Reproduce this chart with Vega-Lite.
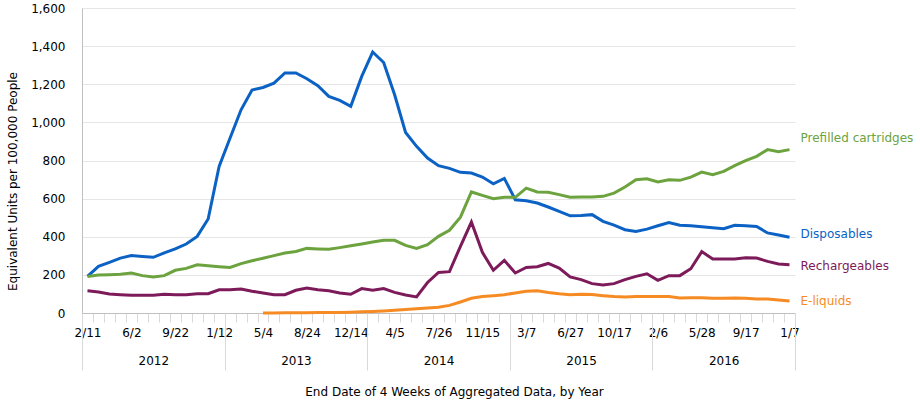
{
  "$schema": "https://vega.github.io/schema/vega-lite/v6.json",
  "autosize": {"type": "none"},
  "width": 713,
  "height": 305,
  "padding": {"left": 82, "top": 8, "right": 125, "bottom": 93},
  "background": "white",
  "config": {"font": "DejaVu Sans", "view": {"stroke": null}},
  "datasets": {
    "sales": [
      {"date":"2012-02-11","series":"Disposables","value":192},
      {"date":"2012-03-10","series":"Disposables","value":245},
      {"date":"2012-04-07","series":"Disposables","value":266},
      {"date":"2012-05-05","series":"Disposables","value":288},
      {"date":"2012-06-02","series":"Disposables","value":301},
      {"date":"2012-06-30","series":"Disposables","value":297},
      {"date":"2012-07-28","series":"Disposables","value":292},
      {"date":"2012-08-25","series":"Disposables","value":315},
      {"date":"2012-09-22","series":"Disposables","value":336},
      {"date":"2012-10-20","series":"Disposables","value":362},
      {"date":"2012-11-17","series":"Disposables","value":402},
      {"date":"2012-12-15","series":"Disposables","value":493},
      {"date":"2013-01-12","series":"Disposables","value":769},
      {"date":"2013-02-09","series":"Disposables","value":918},
      {"date":"2013-03-09","series":"Disposables","value":1066},
      {"date":"2013-04-06","series":"Disposables","value":1170},
      {"date":"2013-05-04","series":"Disposables","value":1183},
      {"date":"2013-06-01","series":"Disposables","value":1206},
      {"date":"2013-06-29","series":"Disposables","value":1259},
      {"date":"2013-07-27","series":"Disposables","value":1259},
      {"date":"2013-08-24","series":"Disposables","value":1229},
      {"date":"2013-09-21","series":"Disposables","value":1192},
      {"date":"2013-10-19","series":"Disposables","value":1136},
      {"date":"2013-11-16","series":"Disposables","value":1115},
      {"date":"2013-12-14","series":"Disposables","value":1084},
      {"date":"2014-01-11","series":"Disposables","value":1241},
      {"date":"2014-02-08","series":"Disposables","value":1369},
      {"date":"2014-03-08","series":"Disposables","value":1314},
      {"date":"2014-04-05","series":"Disposables","value":1145},
      {"date":"2014-05-03","series":"Disposables","value":947},
      {"date":"2014-05-31","series":"Disposables","value":874},
      {"date":"2014-06-28","series":"Disposables","value":813},
      {"date":"2014-07-26","series":"Disposables","value":773},
      {"date":"2014-08-23","series":"Disposables","value":759},
      {"date":"2014-09-20","series":"Disposables","value":738},
      {"date":"2014-10-18","series":"Disposables","value":734},
      {"date":"2014-11-15","series":"Disposables","value":713},
      {"date":"2014-12-13","series":"Disposables","value":678},
      {"date":"2015-01-10","series":"Disposables","value":706},
      {"date":"2015-02-07","series":"Disposables","value":594},
      {"date":"2015-03-07","series":"Disposables","value":589},
      {"date":"2015-04-04","series":"Disposables","value":577},
      {"date":"2015-05-02","series":"Disposables","value":556},
      {"date":"2015-05-30","series":"Disposables","value":533},
      {"date":"2015-06-27","series":"Disposables","value":510},
      {"date":"2015-07-25","series":"Disposables","value":512},
      {"date":"2015-08-22","series":"Disposables","value":516},
      {"date":"2015-09-19","series":"Disposables","value":481},
      {"date":"2015-10-17","series":"Disposables","value":461},
      {"date":"2015-11-14","series":"Disposables","value":437},
      {"date":"2015-12-12","series":"Disposables","value":428},
      {"date":"2016-01-09","series":"Disposables","value":440},
      {"date":"2016-02-06","series":"Disposables","value":458},
      {"date":"2016-03-05","series":"Disposables","value":475},
      {"date":"2016-04-02","series":"Disposables","value":460},
      {"date":"2016-04-30","series":"Disposables","value":458},
      {"date":"2016-05-28","series":"Disposables","value":453},
      {"date":"2016-06-25","series":"Disposables","value":447},
      {"date":"2016-07-23","series":"Disposables","value":442},
      {"date":"2016-08-20","series":"Disposables","value":460},
      {"date":"2016-09-17","series":"Disposables","value":458},
      {"date":"2016-10-15","series":"Disposables","value":454},
      {"date":"2016-11-12","series":"Disposables","value":420},
      {"date":"2016-12-10","series":"Disposables","value":409},
      {"date":"2017-01-07","series":"Disposables","value":397},
      {"date":"2012-02-11","series":"Prefilled cartridges","value":192},
      {"date":"2012-03-10","series":"Prefilled cartridges","value":199},
      {"date":"2012-04-07","series":"Prefilled cartridges","value":201},
      {"date":"2012-05-05","series":"Prefilled cartridges","value":203},
      {"date":"2012-06-02","series":"Prefilled cartridges","value":210},
      {"date":"2012-06-30","series":"Prefilled cartridges","value":196},
      {"date":"2012-07-28","series":"Prefilled cartridges","value":189},
      {"date":"2012-08-25","series":"Prefilled cartridges","value":196},
      {"date":"2012-09-22","series":"Prefilled cartridges","value":224},
      {"date":"2012-10-20","series":"Prefilled cartridges","value":234},
      {"date":"2012-11-17","series":"Prefilled cartridges","value":253},
      {"date":"2012-12-15","series":"Prefilled cartridges","value":248},
      {"date":"2013-01-12","series":"Prefilled cartridges","value":243},
      {"date":"2013-02-09","series":"Prefilled cartridges","value":239},
      {"date":"2013-03-09","series":"Prefilled cartridges","value":259},
      {"date":"2013-04-06","series":"Prefilled cartridges","value":274},
      {"date":"2013-05-04","series":"Prefilled cartridges","value":287},
      {"date":"2013-06-01","series":"Prefilled cartridges","value":301},
      {"date":"2013-06-29","series":"Prefilled cartridges","value":315},
      {"date":"2013-07-27","series":"Prefilled cartridges","value":323},
      {"date":"2013-08-24","series":"Prefilled cartridges","value":339},
      {"date":"2013-09-21","series":"Prefilled cartridges","value":336},
      {"date":"2013-10-19","series":"Prefilled cartridges","value":334},
      {"date":"2013-11-16","series":"Prefilled cartridges","value":343},
      {"date":"2013-12-14","series":"Prefilled cartridges","value":353},
      {"date":"2014-01-11","series":"Prefilled cartridges","value":362},
      {"date":"2014-02-08","series":"Prefilled cartridges","value":372},
      {"date":"2014-03-08","series":"Prefilled cartridges","value":381},
      {"date":"2014-04-05","series":"Prefilled cartridges","value":381},
      {"date":"2014-05-03","series":"Prefilled cartridges","value":355},
      {"date":"2014-05-31","series":"Prefilled cartridges","value":339},
      {"date":"2014-06-28","series":"Prefilled cartridges","value":358},
      {"date":"2014-07-26","series":"Prefilled cartridges","value":402},
      {"date":"2014-08-23","series":"Prefilled cartridges","value":434},
      {"date":"2014-09-20","series":"Prefilled cartridges","value":503},
      {"date":"2014-10-18","series":"Prefilled cartridges","value":635},
      {"date":"2014-11-15","series":"Prefilled cartridges","value":617},
      {"date":"2014-12-13","series":"Prefilled cartridges","value":600},
      {"date":"2015-01-10","series":"Prefilled cartridges","value":607},
      {"date":"2015-02-07","series":"Prefilled cartridges","value":607},
      {"date":"2015-03-07","series":"Prefilled cartridges","value":655},
      {"date":"2015-04-04","series":"Prefilled cartridges","value":635},
      {"date":"2015-05-02","series":"Prefilled cartridges","value":633},
      {"date":"2015-05-30","series":"Prefilled cartridges","value":621},
      {"date":"2015-06-27","series":"Prefilled cartridges","value":607},
      {"date":"2015-07-25","series":"Prefilled cartridges","value":608},
      {"date":"2015-08-22","series":"Prefilled cartridges","value":608},
      {"date":"2015-09-19","series":"Prefilled cartridges","value":612},
      {"date":"2015-10-17","series":"Prefilled cartridges","value":629},
      {"date":"2015-11-14","series":"Prefilled cartridges","value":661},
      {"date":"2015-12-12","series":"Prefilled cartridges","value":699},
      {"date":"2016-01-09","series":"Prefilled cartridges","value":704},
      {"date":"2016-02-06","series":"Prefilled cartridges","value":687},
      {"date":"2016-03-05","series":"Prefilled cartridges","value":699},
      {"date":"2016-04-02","series":"Prefilled cartridges","value":696},
      {"date":"2016-04-30","series":"Prefilled cartridges","value":713},
      {"date":"2016-05-28","series":"Prefilled cartridges","value":739},
      {"date":"2016-06-25","series":"Prefilled cartridges","value":725},
      {"date":"2016-07-23","series":"Prefilled cartridges","value":743},
      {"date":"2016-08-20","series":"Prefilled cartridges","value":773},
      {"date":"2016-09-17","series":"Prefilled cartridges","value":799},
      {"date":"2016-10-15","series":"Prefilled cartridges","value":822},
      {"date":"2016-11-12","series":"Prefilled cartridges","value":857},
      {"date":"2016-12-10","series":"Prefilled cartridges","value":846},
      {"date":"2017-01-07","series":"Prefilled cartridges","value":857},
      {"date":"2012-02-11","series":"Rechargeables","value":117},
      {"date":"2012-03-10","series":"Rechargeables","value":110},
      {"date":"2012-04-07","series":"Rechargeables","value":100},
      {"date":"2012-05-05","series":"Rechargeables","value":96},
      {"date":"2012-06-02","series":"Rechargeables","value":93},
      {"date":"2012-06-30","series":"Rechargeables","value":93},
      {"date":"2012-07-28","series":"Rechargeables","value":93},
      {"date":"2012-08-25","series":"Rechargeables","value":98},
      {"date":"2012-09-22","series":"Rechargeables","value":96},
      {"date":"2012-10-20","series":"Rechargeables","value":96},
      {"date":"2012-11-17","series":"Rechargeables","value":101},
      {"date":"2012-12-15","series":"Rechargeables","value":101},
      {"date":"2013-01-12","series":"Rechargeables","value":122},
      {"date":"2013-02-09","series":"Rechargeables","value":122},
      {"date":"2013-03-09","series":"Rechargeables","value":126},
      {"date":"2013-04-06","series":"Rechargeables","value":114},
      {"date":"2013-05-04","series":"Rechargeables","value":105},
      {"date":"2013-06-01","series":"Rechargeables","value":96},
      {"date":"2013-06-29","series":"Rechargeables","value":96},
      {"date":"2013-07-27","series":"Rechargeables","value":119},
      {"date":"2013-08-24","series":"Rechargeables","value":131},
      {"date":"2013-09-21","series":"Rechargeables","value":122},
      {"date":"2013-10-19","series":"Rechargeables","value":117},
      {"date":"2013-11-16","series":"Rechargeables","value":105},
      {"date":"2013-12-14","series":"Rechargeables","value":98},
      {"date":"2014-01-11","series":"Rechargeables","value":128},
      {"date":"2014-02-08","series":"Rechargeables","value":119},
      {"date":"2014-03-08","series":"Rechargeables","value":128},
      {"date":"2014-04-05","series":"Rechargeables","value":108},
      {"date":"2014-05-03","series":"Rechargeables","value":94},
      {"date":"2014-05-31","series":"Rechargeables","value":84},
      {"date":"2014-06-28","series":"Rechargeables","value":160},
      {"date":"2014-07-26","series":"Rechargeables","value":213},
      {"date":"2014-08-23","series":"Rechargeables","value":217},
      {"date":"2014-09-20","series":"Rechargeables","value":350},
      {"date":"2014-10-18","series":"Rechargeables","value":477},
      {"date":"2014-11-15","series":"Rechargeables","value":318},
      {"date":"2014-12-13","series":"Rechargeables","value":224},
      {"date":"2015-01-10","series":"Rechargeables","value":276},
      {"date":"2015-02-07","series":"Rechargeables","value":210},
      {"date":"2015-03-07","series":"Rechargeables","value":239},
      {"date":"2015-04-04","series":"Rechargeables","value":243},
      {"date":"2015-05-02","series":"Rechargeables","value":260},
      {"date":"2015-05-30","series":"Rechargeables","value":236},
      {"date":"2015-06-27","series":"Rechargeables","value":189},
      {"date":"2015-07-25","series":"Rechargeables","value":175},
      {"date":"2015-08-22","series":"Rechargeables","value":154},
      {"date":"2015-09-19","series":"Rechargeables","value":147},
      {"date":"2015-10-17","series":"Rechargeables","value":154},
      {"date":"2015-11-14","series":"Rechargeables","value":175},
      {"date":"2015-12-12","series":"Rechargeables","value":192},
      {"date":"2016-01-09","series":"Rechargeables","value":206},
      {"date":"2016-02-06","series":"Rechargeables","value":171},
      {"date":"2016-03-05","series":"Rechargeables","value":196},
      {"date":"2016-04-02","series":"Rechargeables","value":196},
      {"date":"2016-04-30","series":"Rechargeables","value":232},
      {"date":"2016-05-28","series":"Rechargeables","value":322},
      {"date":"2016-06-25","series":"Rechargeables","value":283},
      {"date":"2016-07-23","series":"Rechargeables","value":283},
      {"date":"2016-08-20","series":"Rechargeables","value":283},
      {"date":"2016-09-17","series":"Rechargeables","value":290},
      {"date":"2016-10-15","series":"Rechargeables","value":288},
      {"date":"2016-11-12","series":"Rechargeables","value":271},
      {"date":"2016-12-10","series":"Rechargeables","value":257},
      {"date":"2017-01-07","series":"Rechargeables","value":253},
      {"date":"2013-05-04","series":"E-liquids","value":0},
      {"date":"2013-06-01","series":"E-liquids","value":0},
      {"date":"2013-06-29","series":"E-liquids","value":1},
      {"date":"2013-07-27","series":"E-liquids","value":1},
      {"date":"2013-08-24","series":"E-liquids","value":1},
      {"date":"2013-09-21","series":"E-liquids","value":2},
      {"date":"2013-10-19","series":"E-liquids","value":2},
      {"date":"2013-11-16","series":"E-liquids","value":3},
      {"date":"2013-12-14","series":"E-liquids","value":4},
      {"date":"2014-01-11","series":"E-liquids","value":6},
      {"date":"2014-02-08","series":"E-liquids","value":8},
      {"date":"2014-03-08","series":"E-liquids","value":11},
      {"date":"2014-04-05","series":"E-liquids","value":14},
      {"date":"2014-05-03","series":"E-liquids","value":18},
      {"date":"2014-05-31","series":"E-liquids","value":22},
      {"date":"2014-06-28","series":"E-liquids","value":26},
      {"date":"2014-07-26","series":"E-liquids","value":30},
      {"date":"2014-08-23","series":"E-liquids","value":40},
      {"date":"2014-09-20","series":"E-liquids","value":58},
      {"date":"2014-10-18","series":"E-liquids","value":77},
      {"date":"2014-11-15","series":"E-liquids","value":86},
      {"date":"2014-12-13","series":"E-liquids","value":91},
      {"date":"2015-01-10","series":"E-liquids","value":96},
      {"date":"2015-02-07","series":"E-liquids","value":105},
      {"date":"2015-03-07","series":"E-liquids","value":114},
      {"date":"2015-04-04","series":"E-liquids","value":117},
      {"date":"2015-05-02","series":"E-liquids","value":108},
      {"date":"2015-05-30","series":"E-liquids","value":101},
      {"date":"2015-06-27","series":"E-liquids","value":96},
      {"date":"2015-07-25","series":"E-liquids","value":98},
      {"date":"2015-08-22","series":"E-liquids","value":97},
      {"date":"2015-09-19","series":"E-liquids","value":91},
      {"date":"2015-10-17","series":"E-liquids","value":86},
      {"date":"2015-11-14","series":"E-liquids","value":84},
      {"date":"2015-12-12","series":"E-liquids","value":86},
      {"date":"2016-01-09","series":"E-liquids","value":87},
      {"date":"2016-02-06","series":"E-liquids","value":86},
      {"date":"2016-03-05","series":"E-liquids","value":87},
      {"date":"2016-04-02","series":"E-liquids","value":79},
      {"date":"2016-04-30","series":"E-liquids","value":80},
      {"date":"2016-05-28","series":"E-liquids","value":80},
      {"date":"2016-06-25","series":"E-liquids","value":77},
      {"date":"2016-07-23","series":"E-liquids","value":77},
      {"date":"2016-08-20","series":"E-liquids","value":79},
      {"date":"2016-09-17","series":"E-liquids","value":77},
      {"date":"2016-10-15","series":"E-liquids","value":73},
      {"date":"2016-11-12","series":"E-liquids","value":73},
      {"date":"2016-12-10","series":"E-liquids","value":68},
      {"date":"2017-01-07","series":"E-liquids","value":63}
    ],
    "labels": [
      {"date":"2017-01-07","series":"Prefilled cartridges","value":920},
      {"date":"2017-01-07","series":"Disposables","value":416},
      {"date":"2017-01-07","series":"Rechargeables","value":248},
      {"date":"2017-01-07","series":"E-liquids","value":65}
    ],
    "years": [
      {"year":"2012"},{"year":"2013"},{"year":"2014"},{"year":"2015"},{"year":"2016"}
    ]
  },
  "layer": [
    {
      "encoding": {
        "x": {
          "field": "date", "type": "ordinal", "bandPosition": 0.5,
          "scale": {"type": "band", "paddingInner": 0, "paddingOuter": 0},
          "axis": {
            "title": "End Date of 4 Weeks of Aggregated Data, by Year",
            "titleFontSize": 12, "titleFontWeight": "normal", "titleColor": "#000",
            "titleX": 372, "titleY": 78, "titleBaseline": "middle", "titleAlign": "center",
            "labelExpr": "(toDate(datum.value) - toDate('2012-02-11')) % 9676800000 === 0 ? (utcmonth(toDate(datum.value)) + 1) + '/' + utcdate(toDate(datum.value)) : ''",
            "labelAngle": 0, "labelFontSize": 12, "labelColor": "#000",
            "labelBaseline": "middle", "labelPadding": 10, "labelOverlap": false,
            "tickBand": "extent", "tickSize": 9, "tickColor": "#d9d9d9",
            "domainColor": "#bfbfbf", "grid": false
          }
        },
        "y": {
          "field": "value", "type": "quantitative",
          "scale": {"domain": [0, 1600]},
          "axis": {
            "title": "Equivalent Units per 100,000 People",
            "titleFontSize": 12, "titleFontWeight": "normal", "titleColor": "#000",
            "titleX": -70, "titleY": 173, "titleBaseline": "middle", "titleAlign": "center",
            "values": [0, 200, 400, 600, 800, 1000, 1200, 1400, 1600],
            "format": ",.0f", "ticks": false, "labelPadding": 17, "labelOverlap": false,
            "labelFontSize": 12, "labelColor": "#000",
            "domainColor": "#bfbfbf", "grid": true, "gridColor": "#e6e6e6"
          }
        },
        "color": {
          "field": "series", "type": "nominal",
          "scale": {
            "domain": ["Prefilled cartridges", "Disposables", "Rechargeables", "E-liquids"],
            "range": ["#6ca33f", "#0b62c4", "#7d1b5a", "#f68b24"]
          },
          "legend": null
        }
      },
      "layer": [
        {
          "data": {"name": "sales"},
          "mark": {"type": "line", "strokeWidth": 3}
        },
        {
          "data": {"name": "labels"},
          "mark": {"type": "text", "align": "left", "baseline": "middle", "dx": 11, "fontSize": 12},
          "encoding": {
            "text": {"field": "series"}
          }
        }
      ]
    },
    {
      "data": {"name": "years"},
      "mark": {"type": "point", "opacity": 0},
      "encoding": {
        "x": {
          "field": "year", "type": "ordinal",
          "scale": {"type": "band", "paddingInner": 0, "paddingOuter": 0},
          "axis": {
            "orient": "bottom", "title": null, "domain": false,
            "tickBand": "extent", "tickSize": 57, "tickColor": "#d9d9d9",
            "labelPadding": -10, "labelBaseline": "middle", "labelFontSize": 12,
            "labelColor": "#000", "labelAngle": 0
          }
        }
      }
    }
  ],
  "resolve": {"scale": {"x": "independent"}, "axis": {"x": "independent"}}
}
